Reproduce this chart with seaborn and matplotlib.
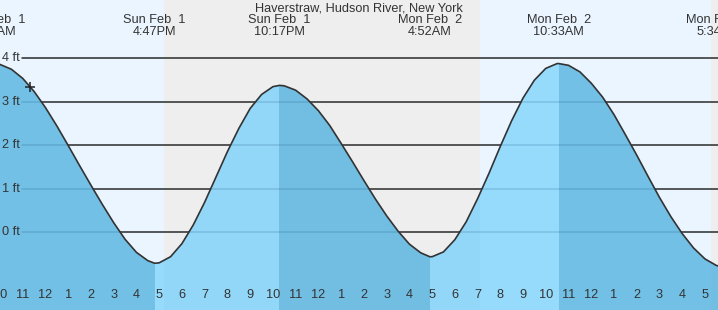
import numpy as np
import pandas as pd
import matplotlib
matplotlib.use("Agg")
import matplotlib.pyplot as plt
import seaborn as sns

# ---------------- data ----------------
title = "Haverstraw, Hudson River, New York"
# hours since Sun Feb 1 00:00
hours = [9.5, 10.0, 10.5, 11.0, 11.5, 12.0, 12.5, 13.0, 13.5, 14.0, 14.5, 15.0,
         15.5, 16.0, 16.5, 17.0, 17.5, 18.0, 18.5, 19.0, 19.5, 20.0, 20.5, 21.0,
         21.5, 22.0, 22.5, 23.0, 23.5, 24.0, 24.5, 25.0, 25.5, 26.0, 26.5, 27.0,
         27.5, 28.0, 28.5, 29.0, 29.5, 30.0, 30.5, 31.0, 31.5, 32.0, 32.5, 33.0,
         33.5, 34.0, 34.5, 35.0, 35.5, 36.0, 36.5, 37.0, 37.5, 38.0, 38.5, 39.0,
         39.5, 40.0, 40.5, 41.0, 41.5, 42.0]
height_ft = [3.86, 3.85, 3.74, 3.53, 3.23, 2.86, 2.44, 1.99, 1.53, 1.08, 0.64, 0.22,
             -0.16, -0.46, -0.65, -0.70, -0.56, -0.26, 0.17, 0.69, 1.27, 1.85, 2.38, 2.84,
             3.16, 3.34, 3.36, 3.26, 3.06, 2.79, 2.45, 2.04, 1.62, 1.19, 0.77, 0.38,
             0.03, -0.27, -0.47, -0.56, -0.45, -0.17, 0.24, 0.77, 1.35, 1.97, 2.56, 3.08,
             3.49, 3.76, 3.87, 3.83, 3.68, 3.42, 3.10, 2.70, 2.24, 1.77, 1.28, 0.80,
             0.36, -0.03, -0.36, -0.61, -0.76, -0.74]

# tide extremes (time in hours, height, label)
extreme_hours = [9.74, 16.80, 22.29, 28.90, 34.57, 41.57]
extreme_ft = [3.87, -0.71, 3.37, -0.56, 3.87, -0.77]
extreme_day = ["Sun Feb  1", "Sun Feb  1", "Sun Feb  1", "Mon Feb  2", "Mon Feb  2", "Mon Feb  2"]
extreme_time = ["9:44AM", "4:47PM", "10:17PM", "4:52AM", "10:33AM", "5:34PM"]

# sunset / sunrise
sunset1, sunrise2, sunset2 = 17.19, 31.11, 41.27

# current time marker
now_hour, now_ft = 11.32, 3.33

grid_ft = [0, 1, 2, 3, 4]
tick_hours = list(range(10, 42))
tick_labels = [str((h - 1) % 12 + 1) for h in tick_hours]

# ---------------- style ----------------
sns.set_theme(style="white")
plt.rcParams["font.family"] = ["Liberation Sans", "DejaVu Sans"]
TXT = "#333333"
FS = 9.2
DAY_BG, NIGHT_BG = "#ebf5ff", "#eeeeee"
RISE_DAY, RISE_NIGHT = "#96dbfc", "#93d7f8"
FALL_DAY, FALL_NIGHT = "#72c0e5", "#72bee2"

fig = plt.figure(figsize=(7.18, 3.10), dpi=100)
ax = fig.add_axes([0, 0, 1, 1])
X0 = 10.013
X1 = X0 + 718 / 22.75
Y0, Y1 = -1.782, 5.328
ax.set_xlim(X0, X1)
ax.set_ylim(Y0, Y1)
for s in ax.spines.values():
    s.set_visible(False)

df = pd.DataFrame({"hour": hours + extreme_hours, "ft": height_ft + extreme_ft})
df = df.sort_values("hour").drop_duplicates("hour").reset_index(drop=True)

# background day/night
ax.axvspan(X0 - 1, sunset1, color=DAY_BG, lw=0, zorder=0)
ax.axvspan(sunset1, sunrise2, color=NIGHT_BG, lw=0, zorder=0)
ax.axvspan(sunrise2, sunset2, color=DAY_BG, lw=0, zorder=0)
ax.axvspan(sunset2, X1 + 1, color=NIGHT_BG, lw=0, zorder=0)

# grid lines (above water)
xmin_frac = 22 / 718
for g in grid_ft:
    ax.axhline(g, xmin=xmin_frac, xmax=1, color="#2b2b2b", lw=1.1, zorder=1)

# water polygon used as clip path
poly = ax.fill_between(df["hour"], df["ft"], Y0 - 1, color="none", lw=0, zorder=1)
clip = poly.get_paths()[0]

segments = [
    (X0 - 1, extreme_hours[1], FALL_DAY),
    (extreme_hours[1], sunset1, RISE_DAY),
    (sunset1, extreme_hours[2], RISE_NIGHT),
    (extreme_hours[2], extreme_hours[3], FALL_NIGHT),
    (extreme_hours[3], sunrise2, RISE_NIGHT),
    (sunrise2, extreme_hours[4], RISE_DAY),
    (extreme_hours[4], sunset2, FALL_DAY),
    (sunset2, X1 + 1, FALL_NIGHT),
]
for a, b, c in segments:
    r = ax.axvspan(a, b, color=c, lw=0, zorder=2)
    r.set_clip_path(clip, ax.transData)

# grid lines under water
for g in grid_ft:
    ln = ax.axhline(g, xmin=xmin_frac, xmax=1, color="#1a5a8a", alpha=0.22, lw=1.1, zorder=3)
    ln.set_clip_path(clip, ax.transData)

# tide curve
sns.lineplot(data=df, x="hour", y="ft", color="#333333", lw=1.2, ax=ax, zorder=4)
ax.set_xlabel("")
ax.set_ylabel("")

# current time marker
ax.scatter([now_hour], [now_ft], marker="+", s=60, color="#222222", lw=1.1, zorder=5)

# y labels
for g in grid_ft:
    ax.text(1.5 / 718, g, f"{g} ft", transform=ax.get_yaxis_transform(),
            ha="left", va="center", fontsize=FS, color=TXT, zorder=6)

# x ticks
ax.set_yticks([])
major = [h for h in tick_hours if h != 24]
ax.set_xticks(major)
ax.set_xticklabels([])
ax.set_xticks([24], minor=True)
ax.tick_params(axis="x", which="major", direction="in", length=5.9, width=1.0,
               color="#333333", bottom=True, labelbottom=False)
ax.tick_params(axis="x", which="minor", direction="in", length=5.9, width=2.3,
               color="#333333", bottom=True, labelbottom=False)
xt = ax.get_xaxis_transform()
for h, lab in zip(tick_hours, tick_labels):
    ax.text(h, 14.5 / 310, lab, transform=xt, ha="center", va="center",
            fontsize=FS, color=TXT, zorder=6)

# title and tide labels
ax.text(0.5, 1 - 8.5 / 310, title, transform=ax.transAxes, ha="center", va="center",
        fontsize=FS, color=TXT, zorder=6)
for h, d, t in zip(extreme_hours, extreme_day, extreme_time):
    ax.text(h, 1 - 20 / 310, d, transform=xt, ha="center", va="center",
            fontsize=FS, color=TXT, zorder=6)
    ax.text(h, 1 - 32 / 310, t, transform=xt, ha="center", va="center",
            fontsize=FS, color=TXT, zorder=6)

fig.savefig("out.png", dpi=100)
